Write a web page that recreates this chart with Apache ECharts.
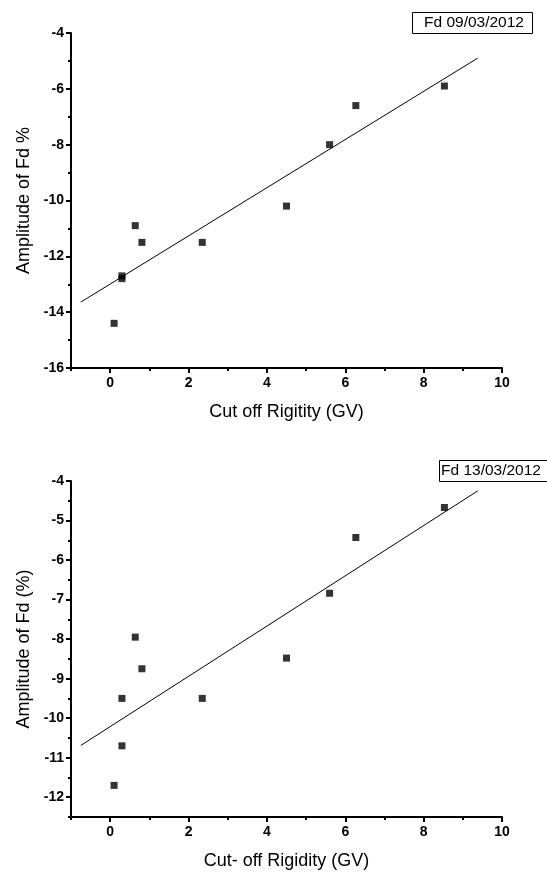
<!DOCTYPE html>
<html>
<head>
<meta charset="utf-8">
<script src="https://cdn.jsdelivr.net/npm/echarts@6/dist/echarts.min.js"></script>
<style>
  html, body { margin: 0; padding: 0; background: #fff; }
  #chart { width: 547px; height: 874px; }
</style>
</head>
<body>
<div id="chart"></div>
<script>
// cut-off rigidity of the stations (GV)
const rigidity = [0.1, 0.3, 0.3, 0.64, 0.81, 2.35, 4.5, 5.6, 6.27, 8.53];
// Fd amplitudes
const amp0903 = [-14.4, -12.7, -12.8, -10.9, -11.5, -11.5, -10.2, -8.0, -6.6, -5.9];
const amp1303 = [-11.7, -10.7, -9.5, -7.95, -8.75, -9.5, -8.48, -6.84, -5.43, -4.67];
// linear fit end points
const fitX = [-0.75, 9.38];
const fit0903 = [-13.64, -4.9];
const fit1303 = [-10.69, -4.25];
// tick labels
const xLabels = [0, 2, 4, 6, 8, 10];
const xMinor = [-1, 1, 3, 5, 7, 9];
const yLabels1303 = [-12, -11, -10, -9, -8, -7, -6, -5, -4];
const yMinor1303 = [-12.5, -11.5, -10.5, -9.5, -8.5, -7.5, -6.5, -5.5, -4.5];

const font = '"Liberation Sans", Arial, sans-serif';
const pairs = (xs, ys) => xs.map((x, i) => [x, ys[i]]);

const chart = echarts.init(document.getElementById('chart'));

function xAxes(gridIndex, name) {
    return [
        {
            gridIndex: gridIndex,
            type: 'value',
            position: 'bottom',
            min: -1,
            max: 10,
            name: name,
            nameLocation: 'middle',
            nameGap: 35,
            nameTextStyle: { fontFamily: font, fontSize: 18, color: '#000' },
            axisLine: { onZero: false, lineStyle: { color: '#000', width: 2 } },
            axisTick: { customValues: xLabels, length: 5, lineStyle: { color: '#000', width: 2 } },
            axisLabel: { customValues: xLabels, margin: 8, fontFamily: font, fontSize: 14, fontWeight: 'bold', color: '#000' },
            splitLine: { show: false }
        },
        {
            gridIndex: gridIndex,
            type: 'value',
            position: 'bottom',
            offset: 0,
            min: -1,
            max: 10,
            axisLine: { show: false, onZero: false },
            axisTick: { customValues: xMinor, length: 3, lineStyle: { color: '#000', width: 2 } },
            axisLabel: { show: false },
            splitLine: { show: false }
        }
    ];
}

const yTitle = { fontFamily: font, fontSize: 18, color: '#000' };
const yLabel = { margin: 7, fontFamily: font, fontSize: 14, fontWeight: 'bold', color: '#000' };
const axisLineStyle = { onZero: false, lineStyle: { color: '#000', width: 2 } };

const option = {
    animation: false,
    backgroundColor: '#fff',
    title: [
        {
            text: 'Fd 09/03/2012',
            left: 412,
            top: 12,
            padding: [3, 9, 3, 12],
            borderColor: '#000',
            borderWidth: 1,
            textStyle: { fontFamily: font, fontSize: 15.5, fontWeight: 'normal', color: '#000', lineHeight: 16 }
        },
        {
            text: 'Fd 13/03/2012',
            left: 439,
            top: 460,
            padding: [3, 10, 3, 2],
            borderColor: '#000',
            borderWidth: 1,
            textStyle: { fontFamily: font, fontSize: 15.5, fontWeight: 'normal', color: '#000', lineHeight: 16 }
        }
    ],
    grid: [
        { left: 71, right: 45, top: 33, height: 335 },
        { left: 71, right: 45, top: 481, height: 336 }
    ],
    xAxis: [].concat(xAxes(0, 'Cut off Rigitity (GV)'), xAxes(1, 'Cut- off Rigidity (GV)')),
    yAxis: [
        {
            gridIndex: 0,
            type: 'value',
            position: 'left',
            min: -16,
            max: -4,
            interval: 2,
            name: 'Amplitude of Fd %',
            nameLocation: 'middle',
            nameGap: 37,
            nameTextStyle: yTitle,
            axisLine: axisLineStyle,
            axisTick: { length: 5, lineStyle: { color: '#000', width: 2 } },
            minorTick: { show: true, splitNumber: 2, length: 3, lineStyle: { color: '#000', width: 2 } },
            axisLabel: yLabel,
            splitLine: { show: false }
        },
        {
            gridIndex: 1,
            type: 'value',
            position: 'left',
            min: -12.5,
            max: -4,
            name: 'Amplitude of Fd (%)',
            nameLocation: 'middle',
            nameGap: 37,
            nameTextStyle: yTitle,
            axisLine: axisLineStyle,
            axisTick: { customValues: yLabels1303, length: 5, lineStyle: { color: '#000', width: 2 } },
            axisLabel: Object.assign({ customValues: yLabels1303 }, yLabel),
            splitLine: { show: false }
        },
        {
            gridIndex: 1,
            type: 'value',
            position: 'left',
            offset: 0,
            min: -12.5,
            max: -4,
            axisLine: { show: false, onZero: false },
            axisTick: { customValues: yMinor1303, length: 3, lineStyle: { color: '#000', width: 2 } },
            axisLabel: { show: false },
            splitLine: { show: false }
        }
    ],
    series: [
        {
            type: 'scatter',
            xAxisIndex: 0,
            yAxisIndex: 0,
            symbol: 'rect',
            symbolSize: 7,
            itemStyle: { color: '#000' },
            data: pairs(rigidity, amp0903)
        },
        {
            type: 'line',
            xAxisIndex: 0,
            yAxisIndex: 0,
            symbol: 'none',
            lineStyle: { color: '#000', width: 1 },
            data: pairs(fitX, fit0903)
        },
        {
            type: 'scatter',
            xAxisIndex: 2,
            yAxisIndex: 1,
            symbol: 'rect',
            symbolSize: 7,
            itemStyle: { color: '#000' },
            data: pairs(rigidity, amp1303)
        },
        {
            type: 'line',
            xAxisIndex: 2,
            yAxisIndex: 1,
            symbol: 'none',
            lineStyle: { color: '#000', width: 1 },
            data: pairs(fitX, fit1303)
        }
    ]
};
chart.setOption(option);

window.addEventListener('resize', function() {
    chart.resize();
});
</script>
</body>
</html>
